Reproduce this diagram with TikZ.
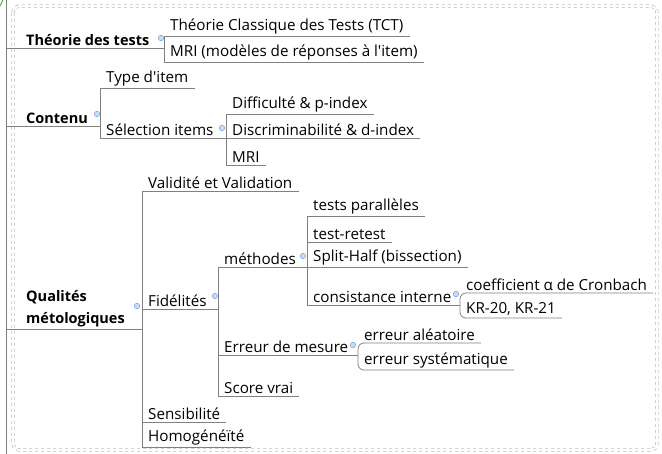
\documentclass[tikz,border=0pt]{standalone}
\usepackage{fontspec}
\setmainfont{Open Sans}
\usetikzlibrary{positioning,calc}
\definecolor{dotfill}{RGB}{200,220,245}
\definecolor{dotline}{RGB}{130,170,225}

\begin{document}
\begin{tikzpicture}
      [x=1pt,y=-1pt,
       every node/.style={font=\fontsize{15.2}{19}\selectfont,text=black},
       leaf/.style={anchor=south west,inner xsep=6pt,inner ysep=2pt,xshift=1pt},
       topic/.style={anchor=south west,inner xsep=3pt,inner ysep=2pt,align=left,font=\fontsize{14.5}{22}\selectfont\bfseries},
       branch/.style={draw=gray,line width=0.8pt},
       curvebranch/.style={branch,rounded corners=6pt},
       dot/.style={circle,fill=dotfill,draw=dotline,line width=0.6pt,inner sep=0pt,minimum size=5.5pt},
       frame/.style={draw=gray!55,dashed,line width=0.7pt,double distance=2pt,rounded corners=7pt}]
      \useasboundingbox (0,0) rectangle (662,454);
      \coordinate (spine) at (6,0);
      \coordinate (spine end) at (6,454);
      \coordinate (tick a) at (0,6);
      \coordinate (tick b) at (3,0);
      \coordinate (frame a) at (13,6);
      \coordinate (frame b) at (657,450);
      \draw[frame] (frame a) rectangle (frame b);
      \draw[branch] (spine) -- (spine end);
      \draw[green!50!black,line width=0.6pt] (tick a) -- (tick b);

      % Théorie des tests
      \node[topic] (theorie) at (23,48) {Théorie des tests};
      \node[leaf] (tct) at (163,36) {Théorie Classique des Tests (TCT)};
      \node[leaf] (mri1) at (163,62) {MRI (modèles de réponses à l\textquotesingle item)};

      % Contenu
      \node[topic] (contenu) at (23,126) {Contenu};
      \node[leaf] (type) at (99,88) {Type d\textquotesingle item};
      \node[leaf] (selection) at (99,138) {Sélection items};
      \node[leaf] (diff) at (225,114) {Difficulté \& p-index};
      \node[leaf] (discr) at (225,138) {Discriminabilité \& d-index};
      \node[leaf] (mri2) at (225,165) {MRI};

      % Qualités métologiques
      \node[topic] (qualites) at (23,329) {Qualités\\métologiques};
      \node[leaf] (validite) at (141,191) {Validité et Validation};
      \node[leaf] (fidelites) at (141,309) {Fidélités};
      \node[leaf] (sensib) at (141,422) {Sensibilité};
      \node[leaf] (homog) at (141,447) {Homogénéïté};
      \node[leaf] (methodes) at (217,267) {méthodes};
      \node[leaf] (erreur) at (217,355) {Erreur de mesure};
      \node[leaf] (score) at (217,396) {Score vrai};
      \node[leaf] (paralleles) at (306,216) {tests parallèles};
      \node[leaf] (retest) at (306,242) {test-retest};
      \node[leaf] (split) at (306,267) {Split-Half (bissection)};
      \node[leaf] (consist) at (306,305) {consistance interne};
      \node[leaf] (cronbach) at (459,293) {coefficient α de Cronbach};
      \node[leaf] (kr) at (459,318) {KR-20, KR-21};
      \node[leaf] (aleatoire) at (357,343) {erreur aléatoire};
      \node[leaf] (systematique) at (357,370) {erreur systématique};

      % branches
      \draw[branch] (theorie.south west -| spine) -- (theorie.south west -| tct.south west);
      \draw[branch] (tct.south east) -- (tct.south west) -- (mri1.south west) -- (mri1.south east);

      \draw[branch] (contenu.south west -| spine) -- (contenu.south west -| type.south west);
      \draw[branch] (type.south east) -- (type.south west) -- (selection.south west);
      \draw[branch] (selection.south west) -- (selection.south west -| diff.south west);
      \draw[branch] (diff.south east) -- (diff.south west) -- (mri2.south west) -- (mri2.south east);
      \draw[branch] (discr.south west) -- (discr.south east);

      \draw[branch] (qualites.south west -| spine) -- (qualites.south west -| validite.south west);
      \draw[branch] (validite.south east) -- (validite.south west) -- (homog.south west) -- (homog.south east);
      \draw[branch] (fidelites.south west) -- (fidelites.south west -| methodes.south west);
      \draw[branch] (sensib.south west) -- (sensib.south east);
      \draw[branch] (methodes.south west) -- (score.south west) -- (score.south east);
      \draw[branch] (methodes.south west) -- (methodes.south west -| paralleles.south west);
      \draw[branch] (erreur.south west) -- (erreur.south west -| aleatoire.south west);
      \draw[branch] (paralleles.south east) -- (paralleles.south west) -- (consist.south west);
      \draw[branch] (retest.south west) -- (retest.south east);
      \draw[branch] (split.south west) -- (split.south east);
      \draw[branch] (consist.south west) -- (consist.south west -| cronbach.south west);
      \draw[curvebranch] (cronbach.south east) -- (cronbach.south west) -- (kr.south west) -- (kr.south east);
      \draw[curvebranch] (aleatoire.south east) -- (aleatoire.south west) -- (systematique.south west) -- (systematique.south east);

      % expand dots
      \node[dot] (dot theorie) at ($(theorie.south west -| tct.south west)+(-3,-10)$) {};
      \node[dot] (dot contenu) at ($(contenu.south west -| type.south west)+(-3,-12)$) {};
      \node[dot] (dot selection) at ($(selection.south west -| diff.south west)+(-4,-10)$) {};
      \node[dot] (dot qualites) at ($(qualites.south west -| validite.south west)+(-5,-23)$) {};
      \node[dot] (dot fidelites) at ($(fidelites.south west -| methodes.south west)+(-3,-13)$) {};
      \node[dot] (dot methodes) at ($(methodes.south west -| paralleles.south west)+(-4,-11)$) {};
      \node[dot] (dot consist) at ($(consist.south west -| cronbach.south west)+(-4,-11)$) {};
      \node[dot] (dot erreur) at ($(erreur.south west -| aleatoire.south west)+(-5,-10)$) {};
    \end{tikzpicture}
\end{document}
